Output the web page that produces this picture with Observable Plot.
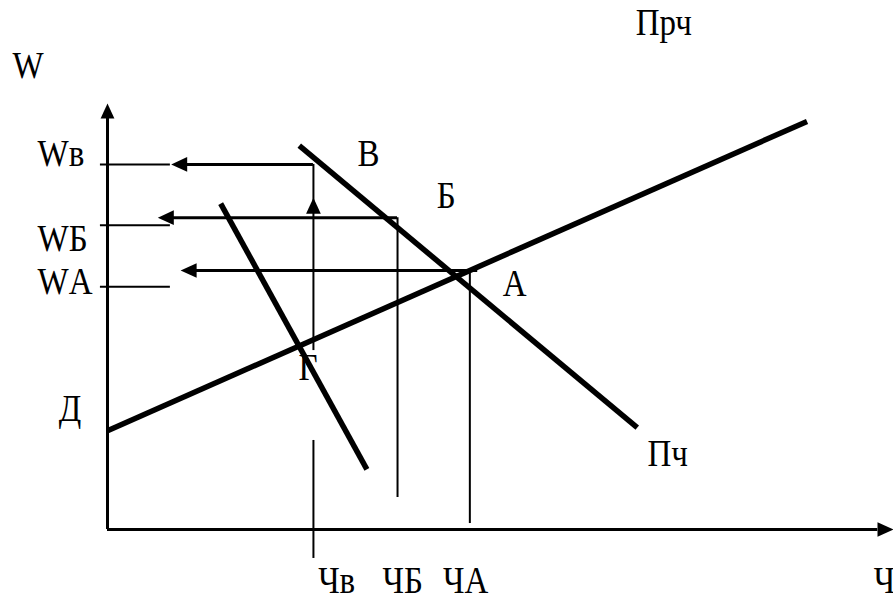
<!DOCTYPE html>
<html><head><meta charset="utf-8">
<script src="https://cdn.jsdelivr.net/npm/d3@7"></script>
<script src="https://cdn.jsdelivr.net/npm/@observablehq/plot@0.6"></script>
<style>
body{margin:0;background:#fff}
svg text{font-family:"Liberation Serif","Times New Roman",serif !important;}
</style>
</head><body><div id="chart"></div>
<script>
// Data units: quantity (Ч) on x, wage (W) on y, both 0..100
const axisMax = 100;
// Supply line (Прч / Д)
const supplyQ = [0, 89];
const supplyW = [23.2, 95.8];
// Demand line Пч
const demandQ = [24.4, 67.4];
const demandW = [90.1, 23.9];
// Lower demand line (through Г)
const demand2Q = [14.4, 33.0];
const demand2W = [76.5, 14.1];
// Wage arrows: level, start (q) and tip (q)
const wageArrowW = [85.7, 73.2, 60.8];
const wageArrowFrom = [26.2, 36.9, 47.1];
const wageArrowTip = [8.1, 6.4, 9.3];
// Wage ticks on the W axis
const wageTickW = [85.7, 71.4, 57.0];
const wageTickSpan = [-0.9, 8.0];
// Quantity drop lines: q, top, bottom
const qValues = [26.2, 36.9, 46.1, 26.2];
const qTop = [85.7, 73.2, 60.8, 20.9];
const qBottom = [42.0, 7.5, 1.4, -6.8];
// Upward arrow tip on Чв line
const upArrowW = 77.9;
// Labels
const labelText = ["W", "Прч", "Wв", "WБ", "WА", "Д", "В", "Б", "А", "Г", "Пч", "Чв", "ЧБ", "ЧА", "Ч"];
const labelQ = [-12.1, 67.2, -8.9, -8.9, -8.9, -6.2, 31.8, 41.9, 50.3, 24.3, 68.7, 26.8, 35.0, 42.7, 97.5];
const labelW = [105.9, 116.0, 85.4, 65.3, 55.2, 25.4, 85.4, 75.4, 54.9, 35.0, 15.0, -14.8, -14.8, -14.8, -14.8];

const seg = (qs, ws) => qs.map((q, i) => ({q, w: ws[i]}));
const wageArrows = wageArrowW.map((w, i) => ({w, q1: wageArrowFrom[i], q2: wageArrowTip[i]}));
const wageTicks = wageTickW.map(w => ({w, q1: wageTickSpan[0], q2: wageTickSpan[1]}));
const drops = qValues.map((q, i) => ({q, w1: qTop[i], w2: qBottom[i]}));
const labels = labelText.map((t, i) => ({t, q: labelQ[i], w: labelW[i]}));

// filled arrowhead symbol, tip at origin, pointing up
const headSymbol = {
  draw(ctx, size) {
    const r = Math.sqrt(size / Math.PI);
    ctx.moveTo(0, 0);
    ctx.lineTo(-0.46 * r, r);
    ctx.lineTo(0.46 * r, r);
    ctx.closePath();
  }
};
const heads = [
  {q: 0, w: axisMax, rot: 0, r: 15},
  {q: axisMax, w: 0, rot: 90, r: 16},
  {q: qValues[0], w: upArrowW, rot: 0, r: 16},
  ...wageArrows.map(d => ({q: d.q2, w: d.w, rot: -90, r: 16}))
];

const chart = Plot.plot({
  width: 893,
  height: 601,
  marginLeft: 107,
  marginRight: 0,
  marginTop: 103,
  marginBottom: 72,
  x: {domain: [0, axisMax], axis: null},
  y: {domain: [0, axisMax], axis: null},
  r: {type: "identity"},
  style: {background: "white", overflow: "visible"},
  marks: [
    // axes
    Plot.ruleX([0], {y1: 0, y2: axisMax - 3, stroke: "black", strokeWidth: 3}),
    Plot.ruleY([0], {x1: 0, x2: axisMax - 2, stroke: "black", strokeWidth: 3}),
    // wage ticks
    Plot.ruleY(wageTicks, {y: "w", x1: "q1", x2: "q2", stroke: "black", strokeWidth: 2}),
    // wage arrows
    Plot.ruleY(wageArrows, {y: "w", x1: "q1", x2: d => d.q2 + 1, stroke: "black", strokeWidth: 3}),
    // quantity drop lines
    Plot.ruleX(drops, {x: "q", y1: "w1", y2: "w2", stroke: "black", strokeWidth: 2}),
    // curves
    Plot.line(seg(supplyQ, supplyW), {x: "q", y: "w", stroke: "black", strokeWidth: 5.5, strokeLinecap: "butt"}),
    Plot.line(seg(demandQ, demandW), {x: "q", y: "w", stroke: "black", strokeWidth: 5.5, strokeLinecap: "butt"}),
    Plot.line(seg(demand2Q, demand2W), {x: "q", y: "w", stroke: "black", strokeWidth: 5.5, strokeLinecap: "butt"}),
    // arrowheads
    Plot.dot(heads, {x: "q", y: "w", r: "r", rotate: "rot", symbol: headSymbol, fill: "black", stroke: null}),
    // labels
    Plot.text(labels, {x: "q", y: "w", text: "t", textAnchor: "start", lineAnchor: "bottom",
      fontFamily: "Liberation Serif", fontSize: 33, fill: "black"})
  ]
});
// the reference lettering is taller than it is wide: stretch glyphs vertically about their baseline
chart.querySelectorAll("text").forEach(el => {
  const t = el.getAttribute("transform");
  if (t) {
    el.setAttribute("transform", t + " scale(1,1.15)");
  } else {
    const x = el.getAttribute("x") || 0, y = el.getAttribute("y") || 0;
    el.removeAttribute("x"); el.removeAttribute("y");
    el.setAttribute("transform", `translate(${x},${y}) scale(1,1.15)`);
  }
});
document.getElementById("chart").append(chart);
</script>
</body></html>
